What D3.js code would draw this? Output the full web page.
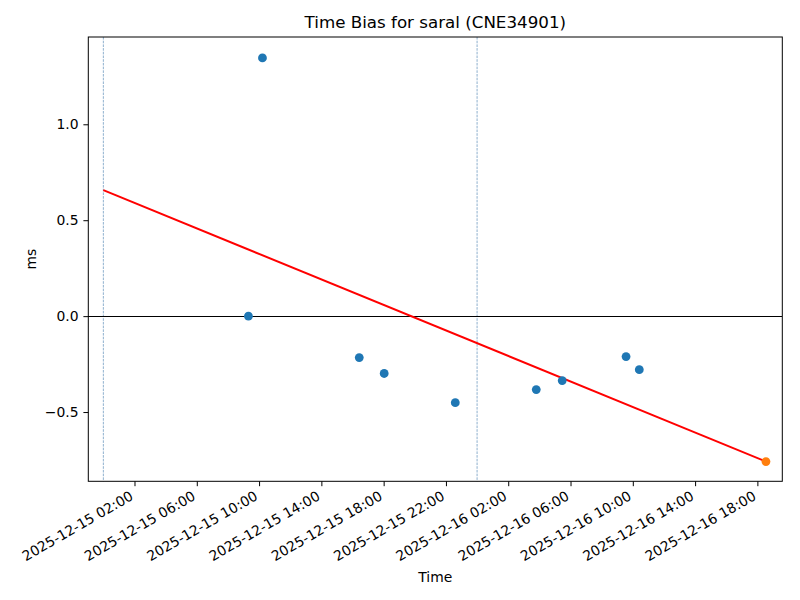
<!DOCTYPE html>
<html>
<head>
<meta charset="utf-8">
<script src="https://cdn.jsdelivr.net/npm/d3@7"></script>
<style>
  body { margin: 0; background: #fff; }
  svg { display: block; font-family: "DejaVu Sans", sans-serif; }
</style>
</head>
<body>
<svg id="chart" width="800" height="600"></svg>
<script>
// ---- Data ----
const pointTimes = [
  "2025-12-15 09:19", "2025-12-15 10:13", "2025-12-15 16:26", "2025-12-15 18:02",
  "2025-12-15 22:36", "2025-12-16 03:48", "2025-12-16 05:28", "2025-12-16 09:34",
  "2025-12-16 10:25"
];
const pointValues = [0.0, 1.346, -0.216, -0.299, -0.451, -0.383, -0.336, -0.211, -0.279];

const latestTime = ["2025-12-16 18:33"];
const latestValue = [-0.758];

const trendTimes = ["2025-12-15 00:00", "2025-12-16 18:33"];
const trendValues = [0.657, -0.758];

const dayBoundaries = ["2025-12-15 00:00", "2025-12-16 00:00"];

const xTickTimes = [
  "2025-12-15 02:00", "2025-12-15 06:00", "2025-12-15 10:00", "2025-12-15 14:00",
  "2025-12-15 18:00", "2025-12-15 22:00", "2025-12-16 02:00", "2025-12-16 06:00",
  "2025-12-16 10:00", "2025-12-16 14:00", "2025-12-16 18:00"
];
const yTicks = [-0.5, 0.0, 0.5, 1.0];
const xDomain = ["2025-12-14 23:02", "2025-12-16 19:36"];
const yDomain = [-0.861, 1.455];

const titleText = "Time Bias for saral (CNE34901)";
const xLabel = "Time";
const yLabel = "ms";

// ---- Drawing ----
const parse = d3.utcParse("%Y-%m-%d %H:%M");
const fmt = d3.utcFormat("%Y-%m-%d %H:%M");

const margin = { left: 88.3, right: 800 - 782.3, top: 37, bottom: 600 - 481.3 };
const W = 800, H = 600;
const svg = d3.select("#chart");

const x = d3.scaleUtc().domain(xDomain.map(parse)).range([margin.left, W - margin.right]);
const y = d3.scaleLinear().domain(yDomain).range([H - margin.bottom, margin.top]);

const g = svg.append("g");

// day boundary lines
g.selectAll("line.day").data(dayBoundaries).join("line")
  .attr("class", "day")
  .attr("x1", d => x(parse(d))).attr("x2", d => x(parse(d)))
  .attr("y1", y.range()[1]).attr("y2", y.range()[0])
  .attr("stroke", "#5b8db8").attr("stroke-width", 0.7)
  .attr("stroke-dasharray", "2.6,1.1");

// zero line
g.append("line")
  .attr("x1", x.range()[0]).attr("x2", x.range()[1])
  .attr("y1", y(0)).attr("y2", y(0))
  .attr("stroke", "#000").attr("stroke-width", 1)
  .attr("shape-rendering", "crispEdges");

// trend line
const trend = trendTimes.map((t, i) => [parse(t), trendValues[i]]);
g.append("path")
  .datum(trend)
  .attr("d", d3.line().x(d => x(d[0])).y(d => y(d[1])))
  .attr("fill", "none").attr("stroke", "#ff0000").attr("stroke-width", 2);

// points
const pts = pointTimes.map((t, i) => [parse(t), pointValues[i]]);
g.selectAll("circle.pt").data(pts).join("circle")
  .attr("class", "pt")
  .attr("cx", d => x(d[0])).attr("cy", d => y(d[1]))
  .attr("r", 4.4).attr("fill", "#1f77b4");

const latest = latestTime.map((t, i) => [parse(t), latestValue[i]]);
g.selectAll("circle.latest").data(latest).join("circle")
  .attr("class", "latest")
  .attr("cx", d => x(d[0])).attr("cy", d => y(d[1]))
  .attr("r", 4.4).attr("fill", "#ff7f0e");

// frame
svg.append("rect")
  .attr("x", x.range()[0]).attr("y", y.range()[1])
  .attr("width", x.range()[1] - x.range()[0])
  .attr("height", y.range()[0] - y.range()[1])
  .attr("fill", "none").attr("stroke", "#000").attr("stroke-width", 1);

// x axis
const xAxis = d3.axisBottom(x)
  .tickValues(xTickTimes.map(parse))
  .tickFormat(fmt)
  .tickSize(4.9).tickPadding(4.9);
const xg = svg.append("g")
  .attr("transform", `translate(0,${y.range()[0]})`)
  .call(xAxis);
xg.select(".domain").remove();
xg.selectAll(".tick line").attr("stroke", "#000").attr("stroke-width", 1);
xg.selectAll(".tick text")
  .attr("font-size", 13.9)
  .attr("font-family", "DejaVu Sans")
  .attr("fill", "#000")
  .attr("text-anchor", "end")
  .attr("y", 0).attr("dy", null)
  .attr("transform", "translate(-6,8.5) rotate(-30)")
  .attr("dominant-baseline", "hanging");

// y axis
const yAxis = d3.axisLeft(y)
  .tickValues(yTicks)
  .tickFormat(d => d3.format(".1f")(d).replace("-", "\u2212"))
  .tickSize(4.9).tickPadding(4.9);
const yg = svg.append("g")
  .attr("transform", `translate(${x.range()[0]},0)`)
  .call(yAxis);
yg.select(".domain").remove();
yg.selectAll(".tick line").attr("stroke", "#000").attr("stroke-width", 1);
yg.selectAll(".tick text")
  .attr("font-size", 13.9)
  .attr("font-family", "DejaVu Sans")
  .attr("fill", "#000");

// title and labels
const cx = (x.range()[0] + x.range()[1]) / 2;
svg.append("text")
  .attr("x", cx).attr("y", 28)
  .attr("text-anchor", "middle")
  .attr("font-size", 16.7)
  .text(titleText);

svg.append("text")
  .attr("x", cx).attr("y", 582)
  .attr("text-anchor", "middle")
  .attr("font-size", 13.9)
  .text(xLabel);

svg.append("text")
  .attr("transform", `translate(36,${(y.range()[0] + y.range()[1]) / 2}) rotate(-90)`)
  .attr("text-anchor", "middle")
  .attr("font-size", 13.9)
  .text(yLabel);
</script>
</body>
</html>
